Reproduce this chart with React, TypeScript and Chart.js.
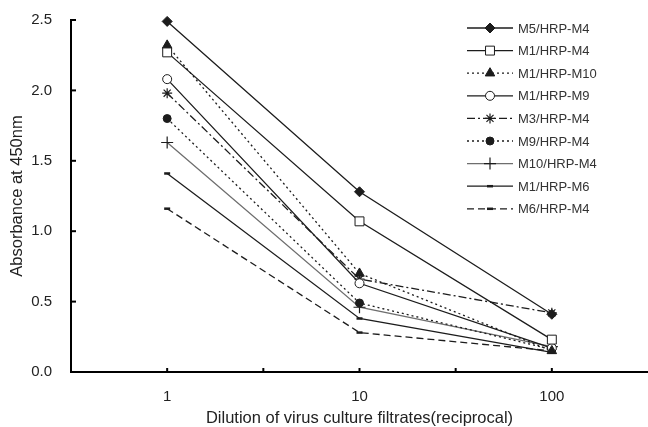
import React, { useEffect, useRef } from "react";
import { Chart, registerables } from "chart.js";
import { drawPoint } from "chart.js/helpers";

Chart.register(...registerables);

const dilutions = ["1", "10", "100"];
const seriesNames = [
  "M5/HRP-M4",
  "M1/HRP-M4",
  "M1/HRP-M10",
  "M1/HRP-M9",
  "M3/HRP-M4",
  "M9/HRP-M4",
  "M10/HRP-M4",
  "M1/HRP-M6",
  "M6/HRP-M4",
];
const m5_m4 = [2.49, 1.28, 0.41];
const m1_m4 = [2.27, 1.07, 0.23];
const m1_m10 = [2.32, 0.7, 0.15];
const m1_m9 = [2.08, 0.63, 0.17];
const m3_m4 = [1.98, 0.66, 0.42];
const m9_m4 = [1.8, 0.49, 0.16];
const m10_m4 = [1.63, 0.46, 0.18];
const m1_m6 = [1.41, 0.38, 0.14];
const m6_m4 = [1.16, 0.28, 0.15];
const yTicks = [0, 0.5, 1.0, 1.5, 2.0, 2.5];

const seriesValues = [m5_m4, m1_m4, m1_m10, m1_m9, m3_m4, m9_m4, m10_m4, m1_m6, m6_m4];

const DARK = "#1c1c1c";
const styles = [
  { dash: [], color: DARK, pointStyle: "rectRot", radius: 5, fill: DARK, pbw: 1 },
  { dash: [], color: DARK, pointStyle: "rect", radius: 6.3, fill: "#ffffff", pbw: 1 },
  { dash: [2, 3], color: DARK, pointStyle: "triangle", radius: 5.5, fill: DARK, pbw: 1 },
  { dash: [], color: DARK, pointStyle: "circle", radius: 4.5, fill: "#ffffff", pbw: 1 },
  { dash: [8, 3, 2, 3], color: DARK, pointStyle: "star", radius: 5, fill: DARK, pbw: 1.2 },
  { dash: [2, 3], color: DARK, pointStyle: "circle", radius: 4, fill: DARK, pbw: 1 },
  { dash: [], color: "#6e6e6e", pointStyle: "cross", radius: 6, fill: DARK, pbw: 1.2, pcolor: DARK },
  { dash: [], color: DARK, pointStyle: "line", radius: 3, fill: DARK, pbw: 2.5 },
  { dash: [7, 4], color: DARK, pointStyle: "line", radius: 3, fill: DARK, pbw: 2.5 },
];

const FONT = "'Liberation Sans', Arial, sans-serif";

const zeroPad = (s: any) => {
  s.paddingLeft = 0;
  s.paddingRight = 0;
  s.paddingTop = 0;
  s.paddingBottom = 0;
};

const insideTicks = {
  id: "insideTicks",
  afterDraw(chart: any) {
    const ctx = chart.ctx;
    const xs = chart.scales.x;
    const ys = chart.scales.y;
    const area = chart.chartArea;
    ctx.save();
    ctx.strokeStyle = "#000";
    ctx.lineWidth = 2;
    ys.ticks.forEach((t: any) => {
      const y = ys.getPixelForValue(t.value);
      ctx.beginPath();
      ctx.moveTo(area.left, y);
      ctx.lineTo(area.left + 5, y);
      ctx.stroke();
    });
    xs.ticks.forEach((t: any) => {
      if (t.value <= xs.min || t.value >= xs.max) return;
      const x = xs.getPixelForValue(t.value);
      ctx.beginPath();
      ctx.moveTo(x, area.bottom);
      ctx.lineTo(x, area.bottom - 4);
      ctx.stroke();
    });
    ctx.restore();
  },
};

const customLegend = {
  id: "customLegend",
  afterDraw(chart: any) {
    const ctx = chart.ctx;
    const x0 = 467;
    const x1 = 513;
    const top = 28;
    const step = 22.6;
    ctx.save();
    chart.data.datasets.forEach((ds: any, i: number) => {
      const y = top + i * step;
      ctx.save();
      ctx.strokeStyle = ds.borderColor;
      ctx.lineWidth = ds.borderWidth;
      ctx.setLineDash(ds.borderDash || []);
      ctx.beginPath();
      ctx.moveTo(x0, y);
      ctx.lineTo(x1, y);
      ctx.stroke();
      ctx.restore();
      ctx.save();
      ctx.fillStyle = ds.pointBackgroundColor;
      ctx.strokeStyle = ds.pointBorderColor;
      ctx.lineWidth = ds.pointBorderWidth;
      ctx.setLineDash([]);
      drawPoint(ctx, { pointStyle: ds.pointStyle, rotation: 0, radius: ds.pointRadius, borderWidth: ds.pointBorderWidth }, (x0 + x1) / 2, y);
      ctx.restore();
      ctx.fillStyle = "#333";
      ctx.font = `13px ${FONT}`;
      ctx.textAlign = "left";
      ctx.textBaseline = "middle";
      ctx.fillText(ds.label, 518, y + 1);
    });
    ctx.restore();
  },
};

export default function App() {
  const ref = useRef<HTMLCanvasElement | null>(null);
  useEffect(() => {
    if (!ref.current) return;
    const datasets = seriesNames.map((name, i) => {
      const s = styles[i];
      return {
        label: name,
        data: seriesValues[i].map((v, j) => ({ x: 2 * j + 1, y: v })),
        borderColor: s.color,
        borderWidth: 1.3,
        borderDash: s.dash,
        pointStyle: s.pointStyle,
        pointRadius: s.radius,
        pointBackgroundColor: s.fill,
        pointBorderColor: (s as any).pcolor || DARK,
        pointBorderWidth: s.pbw,
        tension: 0,
        fill: false,
        clip: false as any,
      };
    });
    const labelAt = (v: number) => {
      const idx = (v - 1) / 2;
      return Number.isInteger(idx) && idx >= 0 && idx < dilutions.length ? dilutions[idx] : "";
    };
    const chart = new Chart(ref.current, {
      type: "line",
      data: { datasets: datasets as any },
      options: {
        responsive: false,
        animation: false,
        devicePixelRatio: 1,
        layout: { autoPadding: false, padding: { top: 20, right: 0, left: 0, bottom: 0 } },
        plugins: { legend: { display: false }, tooltip: { enabled: false } },
        scales: {
          x: {
            type: "linear",
            min: 0,
            max: 6,
            afterFit: (s: any) => {
              s.height = 55;
              zeroPad(s);
            },
            grid: { display: false, drawTicks: false },
            border: { display: true, width: 2, color: "#000" },
            ticks: {
              stepSize: 1,
              autoSkip: false,
              maxRotation: 0,
              padding: 16,
              color: "#222",
              font: { family: FONT, size: 15 },
              callback: (v: any) => labelAt(Number(v)),
            },
            title: {
              display: true,
              text: "Dilution of virus culture filtrates(reciprocal)",
              color: "#222",
              font: { family: FONT, size: 16.5 },
              padding: { top: 0, bottom: -1 },
            },
          },
          y: {
            min: 0,
            max: 2.5,
            afterFit: (s: any) => {
              s.width = 71;
              zeroPad(s);
            },
            afterBuildTicks: (s: any) => {
              s.ticks = yTicks.map((v) => ({ value: v }));
            },
            grid: { display: false, drawTicks: false },
            border: { display: true, width: 2, color: "#000" },
            ticks: {
              padding: 19,
              color: "#222",
              font: { family: FONT, size: 15 },
              callback: (v: any) => Number(v).toFixed(1),
            },
            title: {
              display: true,
              text: "Absorbance at 450nm",
              color: "#222",
              font: { family: FONT, size: 16.5 },
              padding: { top: 8, bottom: 0 },
            },
          },
        },
      } as any,
      plugins: [insideTicks, customLegend],
    });
    return () => chart.destroy();
  }, []);
  return (
    <div style={{ position: "fixed", left: 0, top: 0, width: 648, height: 427, background: "#fff" }}>
      <canvas ref={ref} width={648} height={427} style={{ width: 648, height: 427, display: "block" }} />
    </div>
  );
}
